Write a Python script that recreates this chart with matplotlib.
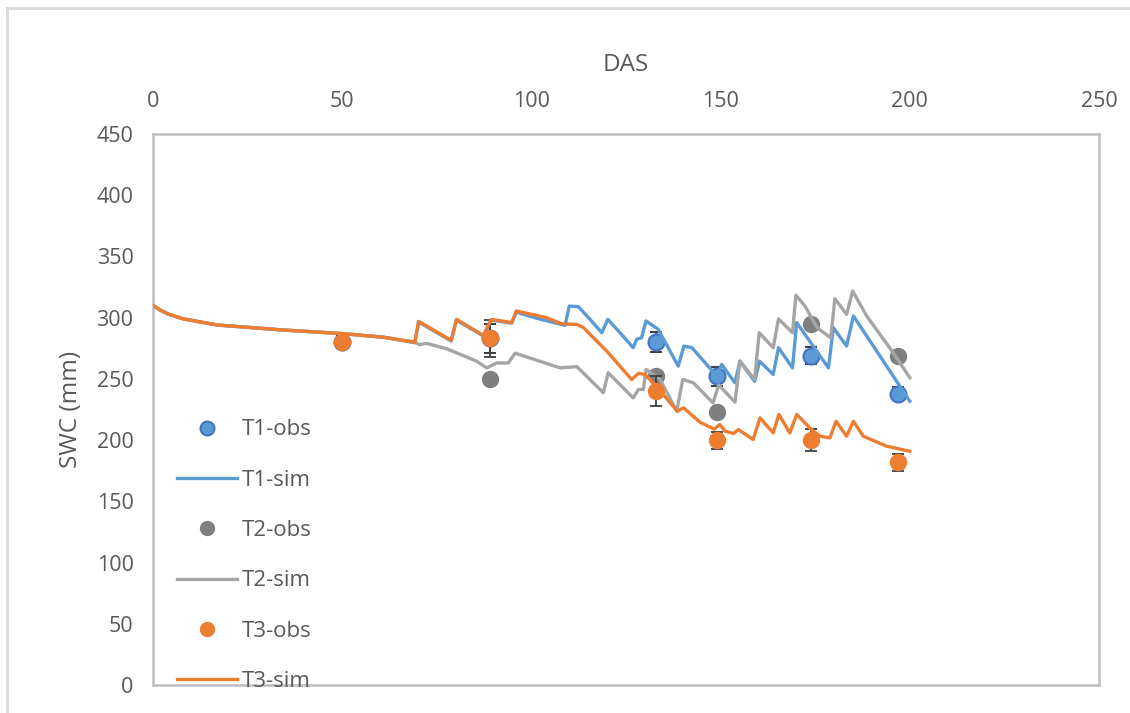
import matplotlib
matplotlib.use("Agg")
import matplotlib.pyplot as plt
from matplotlib.lines import Line2D

plt.rcParams['font.family'] = ['Open Sans', 'DejaVu Sans']

# Observed soil water content (mm) at sampling dates (days after sowing)
obs_days = [50, 89, 133, 149, 174, 197]
t1_obs = [280, 283, 280, 252, 269, 238]
t2_obs = [280, 250, 252, 223, 295, 269]
t3_obs = [280, 283, 240, 200, 200, 182]
t1_err = [4, 12, 8, 8, 7, 5]
t3_err = [5, 15, 12, 7, 9, 7]

# Simulated soil water content (mm), vertices of the daily series
t1_sim_days = [0, 2, 4, 8, 17, 34, 50, 61, 69.2, 70.2, 78.8, 80.2, 87.3, 89.4, 94.8,
               96, 102, 108.9, 110, 112.4, 115.5, 118.6, 120.2, 123.8, 126.9, 127.8,
               129.1, 130.3, 133.5, 138.8, 140.3, 142.4, 149, 150.3, 153.8, 155.1,
               159, 160.3, 163.9, 165.3, 169, 170.1, 173.2, 178.5, 179.8, 183.3,
               185.1, 200]
t1_sim = [310, 306, 303, 299, 294, 290, 287, 284, 279.5, 296.5, 281, 298, 285, 298,
          295.5, 304.5, 299, 293.7, 309.5, 309, 298.6, 287.7, 298.6, 286.4, 275.5, 282.3,
          283.6, 297.3, 290.5, 260.4, 276.8, 275.5, 252.3, 261.8, 246.8, 264.5,
          248, 264.5, 253.6, 275.5, 259, 296, 282.3, 259, 291.8, 276.8,
          301.4, 231.8]

t2_sim_days = [0, 2, 4, 8, 17, 34, 50, 61, 69.2, 70.4, 72.3, 77.6, 85.5, 88.2, 90.8,
               93.9, 95.7, 107.6, 112, 119, 120.3, 126.9, 128.3, 129.6, 130.3, 134,
               138.4, 140, 142.8, 148, 149.5, 153.8, 155.1, 159, 160.2, 163.9, 165.3,
               169, 169.9, 172.3, 175.5, 179.1, 180.2, 183.3, 184.9, 188.6, 195.6, 200]
t2_sim = [310, 306, 303, 299, 294, 290, 287, 284, 280, 278, 279, 274.6, 264.5, 259, 263,
          263, 271, 259, 260, 238.7, 255, 234.5, 241.4, 241.4, 257.7, 249.5,
          223.6, 249.5, 246.8, 230.4, 245, 231, 264.5, 249.5, 287.7, 275.5, 299,
          287.7, 318.3, 309.5, 291.8, 283.6, 315.5, 302.7, 321.8, 301.4, 271.4, 251]

t3_sim_days = [0, 2, 4, 8, 17, 34, 50, 61, 69.2, 70.2, 78.8, 80.2, 87.3, 89.4, 94.8,
               96, 104, 108, 112, 113.7, 119.9, 126.5, 128.3, 130, 132.2, 138.6, 140.2,
               144.6, 148.3, 149.8, 151.2, 153.4, 154.7, 158.6, 160.4, 163.9, 165.4,
               168.3, 170.1, 174, 176.3, 178.9, 180.5, 183.3, 185.1, 187.7, 193.9, 200]
t3_sim = [310, 306, 303, 299, 294, 290, 287, 284, 280, 297, 281.5, 298.6, 285.5, 298.6,
          296, 305.5, 300, 295, 294.5, 292, 272.7, 249.5, 254.5, 253.6, 246.8, 223.6,
          226.4, 214.5, 209, 212.7, 207.3, 205.4, 208.6, 200.5, 218.2, 205.9, 221,
          205.9, 221, 208.6, 203.2, 201.8, 215.4, 203.2, 215.4, 203.2, 195, 190.9]

x_ticks = [0, 50, 100, 150, 200, 250]
y_ticks = [0, 50, 100, 150, 200, 250, 300, 350, 400, 450]

BLUE, BLUE_EDGE = '#5B9BD5', '#4472C4'
GRAY_LINE, GRAY_DOT = '#A5A5A5', '#7F7F7F'
ORANGE = '#ED7D31'
TEXT = '#595959'
ERR = '#404040'

fig = plt.figure(figsize=(11.3, 7.13), dpi=100)
ax = fig.add_axes([153 / 1130, 1 - 685 / 713, 946 / 1130, 551 / 713])

ms = 11.5
lw = 2.4
ax.errorbar(obs_days, t1_obs, yerr=t1_err, fmt='o', color=BLUE, mfc=BLUE, mec=BLUE_EDGE,
            mew=1.5, ms=ms, ecolor=ERR, elinewidth=1.3, capsize=4.5, capthick=1.3,
            zorder=3)
ax.plot(t1_sim_days, t1_sim, color=BLUE, lw=lw, zorder=4)
ax.plot(obs_days, t2_obs, 'o', color=GRAY_DOT, ms=ms, zorder=5)
ax.plot(t2_sim_days, t2_sim, color=GRAY_LINE, lw=lw, zorder=6)
ax.errorbar(obs_days, t3_obs, yerr=t3_err, fmt='o', color=ORANGE, mfc=ORANGE, mec=ORANGE,
            ms=ms, ecolor=ERR, elinewidth=1.3, capsize=4.5, capthick=1.3,
            zorder=7)
ax.plot(t3_sim_days, t3_sim, color=ORANGE, lw=lw, zorder=8)

ax.set_xlim(0, 250)
ax.set_ylim(0, 450)
ax.set_xticks(x_ticks)
ax.set_yticks(y_ticks)
ax.xaxis.tick_top()
ax.xaxis.set_label_position('top')
ax.tick_params(axis='both', length=0, labelsize=15.5, labelcolor=TEXT)
ax.tick_params(axis='x', pad=16)
ax.tick_params(axis='y', pad=14)
ax.set_xlabel('DAS', fontsize=17.5, color=TEXT, labelpad=14)
ax.set_ylabel('SWC (mm)', fontsize=17.5, color=TEXT, labelpad=10)

for sp in ax.spines.values():
    sp.set_color('#BFBFBF')
    sp.set_linewidth(1.8)

handles = [
    Line2D([], [], ls='none', marker='o', ms=10, mfc=BLUE, mec=BLUE_EDGE, mew=1.5),
    Line2D([], [], color=BLUE, lw=lw),
    Line2D([], [], ls='none', marker='o', ms=10, mfc=GRAY_DOT, mec=GRAY_DOT),
    Line2D([], [], color=GRAY_LINE, lw=lw),
    Line2D([], [], ls='none', marker='o', ms=10, mfc=ORANGE, mec=ORANGE),
    Line2D([], [], color=ORANGE, lw=lw),
]
labels = ['T1-obs', 'T1-sim', 'T2-obs', 'T2-sim', 'T3-obs', 'T3-sim']
leg = ax.legend(handles, labels, loc='upper left', bbox_to_anchor=(0.025, 0.482),
                frameon=False, fontsize=16, labelspacing=1.32, handlelength=2.7,
                handletextpad=0.25, borderpad=0, borderaxespad=0, labelcolor=TEXT)
leg.set_zorder(20)

# Outer chart frame
fig.add_artist(Line2D([7 / 1130, 7 / 1130], [0, 1 - 8 / 713], color='#D9D9D9', lw=2))
fig.add_artist(Line2D([7 / 1130, 1], [1 - 8 / 713, 1 - 8 / 713], color='#D9D9D9', lw=2))

fig.savefig('out.png', dpi=100)
